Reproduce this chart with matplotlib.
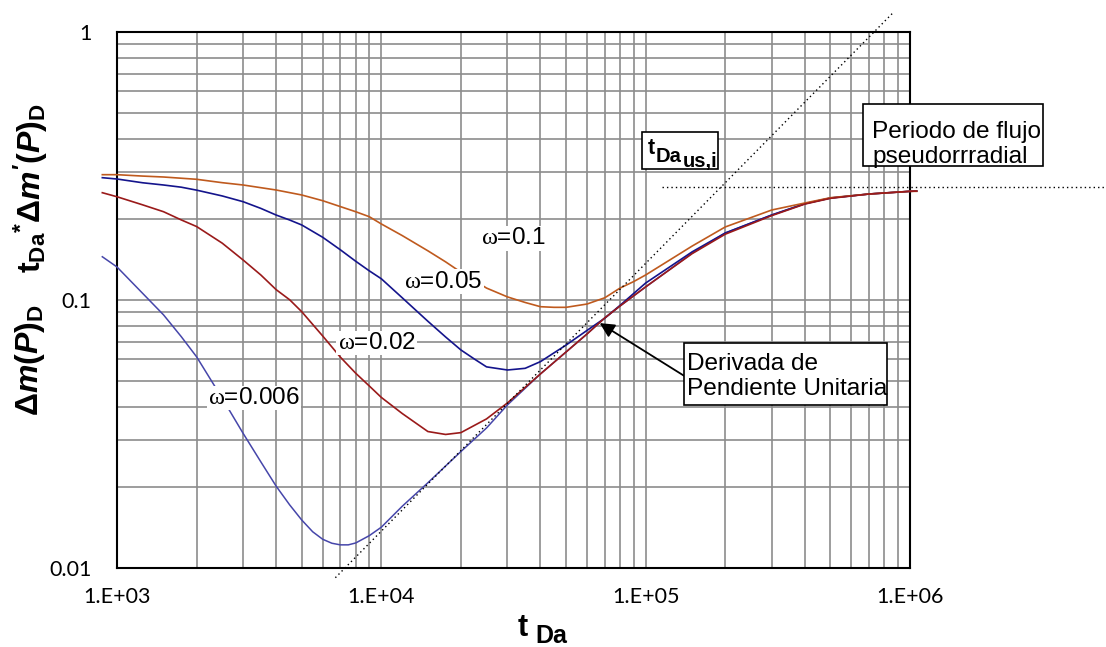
import matplotlib
matplotlib.use("Agg")
import matplotlib.pyplot as plt
from matplotlib.patches import Rectangle
from matplotlib.ticker import FixedLocator, FixedFormatter, NullFormatter, LogLocator

# ---- data -------------------------------------------------------------
# omega = 0.1
t_w0100 = [880, 1000, 1250, 1500, 2000, 2500, 3000, 4000, 5000, 6000,
           7000, 8000, 9000, 1.0e4, 1.2e4, 1.5e4, 1.75e4, 2.0e4, 2.5e4, 3.0e4,
           3.5e4, 4.0e4, 4.5e4, 5.0e4, 6.0e4, 7.0e4, 8.0e4, 9.0e4, 1.0e5, 1.5e5,
           2.0e5, 3.0e5, 4.0e5, 5.0e5, 7.0e5, 1.0e6, 1.06e6]
d_w0100 = [0.2935, 0.2935, 0.290, 0.2877, 0.2821, 0.274, 0.2686, 0.2573, 0.2465, 0.2347,
           0.2231, 0.2135, 0.2046, 0.1922, 0.1739, 0.1526, 0.1388, 0.127, 0.1108, 0.1027,
           0.0979, 0.0944, 0.0939, 0.0939, 0.0966, 0.1019, 0.1108, 0.1171, 0.124, 0.159,
           0.1873, 0.2167, 0.2301, 0.2408, 0.2486, 0.2544, 0.2544]

# omega = 0.05
t_w0050 = [880, 1000, 1250, 1500, 1750, 2000, 2500, 3000, 3500, 4000,
           4500, 5000, 6000, 7000, 8000, 9000, 1.0e4, 1.2e4, 1.5e4, 1.75e4,
           2.0e4, 2.25e4, 2.5e4, 3.0e4, 3.5e4, 4.0e4, 5.0e4, 6.0e4, 7.0e4, 8.0e4,
           1.0e5, 1.5e5, 2.0e5, 3.0e5, 4.0e5, 5.0e5, 7.0e5, 1.0e6, 1.06e6]
d_w0050 = [0.286, 0.2828, 0.2738, 0.2686, 0.2636, 0.257, 0.2445, 0.2327, 0.2197, 0.2075,
           0.1988, 0.1905, 0.1714, 0.1539, 0.1395, 0.1285, 0.120, 0.1019, 0.0833, 0.0728,
           0.0651, 0.0602, 0.0563, 0.0548, 0.0556, 0.0589, 0.0679, 0.077, 0.0855, 0.0955,
           0.1157, 0.1513, 0.1778, 0.2076, 0.2287, 0.2402, 0.2486, 0.2544, 0.255]

# omega = 0.02
t_w0020 = [880, 1000, 1250, 1500, 1750, 2000, 2500, 3000, 3500, 4000,
           4500, 5000, 6000, 7000, 8000, 9000, 1.0e4, 1.2e4, 1.5e4, 1.75e4,
           2.0e4, 2.5e4, 3.0e4, 4.0e4, 5.0e4, 6.0e4, 7.0e4, 8.0e4, 1.0e5, 1.5e5,
           2.0e5, 3.0e5, 4.0e5, 5.0e5, 7.0e5, 1.0e6, 1.06e6]
d_w0020 = [0.2514, 0.2428, 0.2265, 0.2135, 0.199, 0.188, 0.163, 0.141, 0.124, 0.1093,
           0.1002, 0.0904, 0.0734, 0.0612, 0.0533, 0.0478, 0.0433, 0.0377, 0.0323, 0.0315,
           0.0320, 0.036, 0.0413, 0.053, 0.064, 0.0747, 0.0857, 0.095, 0.112, 0.1490,
           0.1760, 0.2065, 0.2280, 0.2395, 0.2486, 0.2544, 0.255]

# omega = 0.006
t_w0006 = [880, 1000, 1250, 1500, 1750, 2000, 2500, 3000, 3500, 4000,
           4500, 5000, 5500, 6000, 6500, 7000, 7500, 8000, 9000, 1.0e4,
           1.2e4, 1.5e4, 2.0e4, 2.5e4, 3.0e4, 4.0e4, 5.0e4, 6.0e4, 7.0e4, 8.0e4,
           1.0e5, 1.5e5, 2.0e5, 3.0e5, 4.0e5, 5.0e5, 7.0e5, 1.0e6, 1.06e6]
d_w0006 = [0.145, 0.1328, 0.1059, 0.088, 0.0730, 0.0614, 0.0430, 0.0318, 0.0249, 0.0202,
           0.0172, 0.0151, 0.01365, 0.0128, 0.01237, 0.0122, 0.0122, 0.0124, 0.0132, 0.0142,
           0.0170, 0.0208, 0.0272, 0.0333, 0.0406, 0.053, 0.064, 0.0747, 0.0857, 0.095,
           0.1118, 0.1497, 0.1778, 0.2076, 0.2287, 0.2402, 0.2486, 0.2544, 0.255]

# unit-slope straight line and pseudoradial stabilisation level
unit_slope_t = [6.7e3, 8.7e5]
unit_slope_d = [0.0092, 1.19]
radial_t = [1.15e5, 6.0e6]
radial_d = [0.265, 0.265]

omega_labels = ["0.1", "0.05", "0.02", "0.006"]
omega_label_t = [3.15e4, 1.72e4, 9.6e3, 3.3e3]
omega_label_d = [0.170, 0.1168, 0.0691, 0.0431]

arrow_tip = (6.7e4, 0.082)

x_ticks = [1e3, 1e4, 1e5, 1e6]
x_tick_labels = ["1.E+03", "1.E+04", "1.E+05", "1.E+06"]
y_ticks = [0.01, 0.1, 1]
y_tick_labels = ["0.01", "0.1", "1"]

# ---- style ------------------------------------------------------------
plt.rcParams["font.family"] = ["Liberation Sans", "DejaVu Sans"]
plt.rcParams["mathtext.fontset"] = "custom"
plt.rcParams["mathtext.rm"] = "Liberation Sans:bold"
plt.rcParams["mathtext.bf"] = "Liberation Sans:bold"
plt.rcParams["mathtext.it"] = "Liberation Sans:italic:bold"
plt.rcParams["mathtext.sf"] = "Liberation Serif"

W, H = 1106, 647
fig = plt.figure(figsize=(W / 100, H / 100), dpi=100)
fig.patch.set_facecolor("white")


def fx(px):
    return px / W


def fy(py):
    return 1 - py / H


ax = fig.add_axes([fx(117), fy(568), fx(910) - fx(117), fy(32) - fy(568)])
ax.set_xscale("log")
ax.set_yscale("log")
ax.set_xlim(1e3, 1e6)
ax.set_ylim(0.01, 1)

ax.xaxis.set_major_locator(FixedLocator(x_ticks))
ax.xaxis.set_major_formatter(FixedFormatter(x_tick_labels))
ax.yaxis.set_major_locator(FixedLocator(y_ticks))
ax.yaxis.set_major_formatter(FixedFormatter(y_tick_labels))
ax.xaxis.set_minor_locator(LogLocator(base=10, subs=range(2, 10), numticks=20))
ax.yaxis.set_minor_locator(LogLocator(base=10, subs=range(2, 10), numticks=20))
ax.xaxis.set_minor_formatter(NullFormatter())
ax.yaxis.set_minor_formatter(NullFormatter())
ax.tick_params(which="both", length=0)
ax.tick_params(axis="x", pad=14, labelsize=15.5)
ax.tick_params(axis="y", pad=18.5, labelsize=15.5)
for lab in ax.get_xticklabels() + ax.get_yticklabels():
    lab.set_fontfamily(["Lato", "DejaVu Sans"])

ax.grid(which="both", color="#8c8c8c", lw=1.2)
ax.set_axisbelow(True)
for sp in ax.spines.values():
    sp.set_color("black")
    sp.set_linewidth(1.5)

# ---- curves -----------------------------------------------------------
ax.plot(t_w0006, d_w0006, color="#4646AA", lw=1.1, clip_on=False, zorder=3)
ax.plot(t_w0050, d_w0050, color="#14148C", lw=1.2, clip_on=False, zorder=3)
ax.plot(t_w0100, d_w0100, color="#BF5A1E", lw=1.2, clip_on=False, zorder=3)
ax.plot(t_w0020, d_w0020, color="#9A1A1A", lw=1.2, clip_on=False, zorder=3)

ax.plot(unit_slope_t, unit_slope_d, color="black", lw=1.0,
        ls=(0, (1, 2.2)), clip_on=False, zorder=4)
ax.plot(radial_t, radial_d, color="black", lw=1.0,
        ls=(0, (1, 2.2)), clip_on=False, zorder=4)

for lab, xt, yd in zip(omega_labels, omega_label_t, omega_label_d):
    ax.text(xt, yd, r"$\mathsf{\omega}$=" + lab, fontsize=17.5,
            ha="center", va="center", zorder=5,
            bbox=dict(facecolor="white", edgecolor="none", pad=1))

# ---- annotation boxes -------------------------------------------------
def box(px0, py0, px1, py1):
    fig.add_artist(Rectangle((fx(px0), fy(py1)), fx(px1) - fx(px0), fy(py0) - fy(py1),
                             transform=fig.transFigure, facecolor="white",
                             edgecolor="black", lw=1.2, zorder=5))


box(642, 132, 718, 169)
fig.text(fx(648), fy(154), "t", fontsize=15.5, fontweight="bold",
         ha="left", va="baseline", zorder=6)
fig.text(fx(656), fy(162), "Da", fontsize=14.5, fontweight="bold",
         ha="left", va="baseline", zorder=6)
fig.text(fx(683), fy(167), "us,i", fontsize=14.5, fontweight="bold",
         ha="left", va="baseline", zorder=6)

box(863, 104, 1043, 166)
fig.text(fx(872), fy(121), "Periodo de flujo\npseudorrradial", fontsize=17.6,
         ha="left", va="top", linespacing=1.15, zorder=6)

box(684, 343, 887, 405)
fig.text(fx(687), fy(353), "Derivada de\nPendiente Unitaria", fontsize=17.6,
         ha="left", va="top", linespacing=1.15, zorder=6)

ax.annotate("", xy=arrow_tip, xycoords="data",
            xytext=(686, H - 377), textcoords="figure pixels",
            arrowprops=dict(arrowstyle="-|>", color="black", lw=1.3,
                            mutation_scale=22, shrinkA=0, shrinkB=0),
            zorder=6)

# ---- axis titles ------------------------------------------------------
fig.text(fx(523), fy(636), "t", fontsize=22, fontweight="bold",
         ha="center", va="baseline")
fig.text(fx(535), fy(643), "Da", fontsize=18, fontweight="bold",
         ha="left", va="baseline")

fig.text(fx(30), fy(360), r"$\Delta\mathit{m(P)}_{\mathrm{D}}$", fontsize=23,
         rotation=90, ha="center", va="center")
fig.text(fx(31), fy(188), r"$\mathrm{t}_{\mathrm{Da}}{}^{*}\Delta\mathit{m'(P)}_{\mathrm{D}}$",
         fontsize=23, rotation=90, ha="center", va="center")

fig.savefig("out.png", dpi=100, facecolor="white")
